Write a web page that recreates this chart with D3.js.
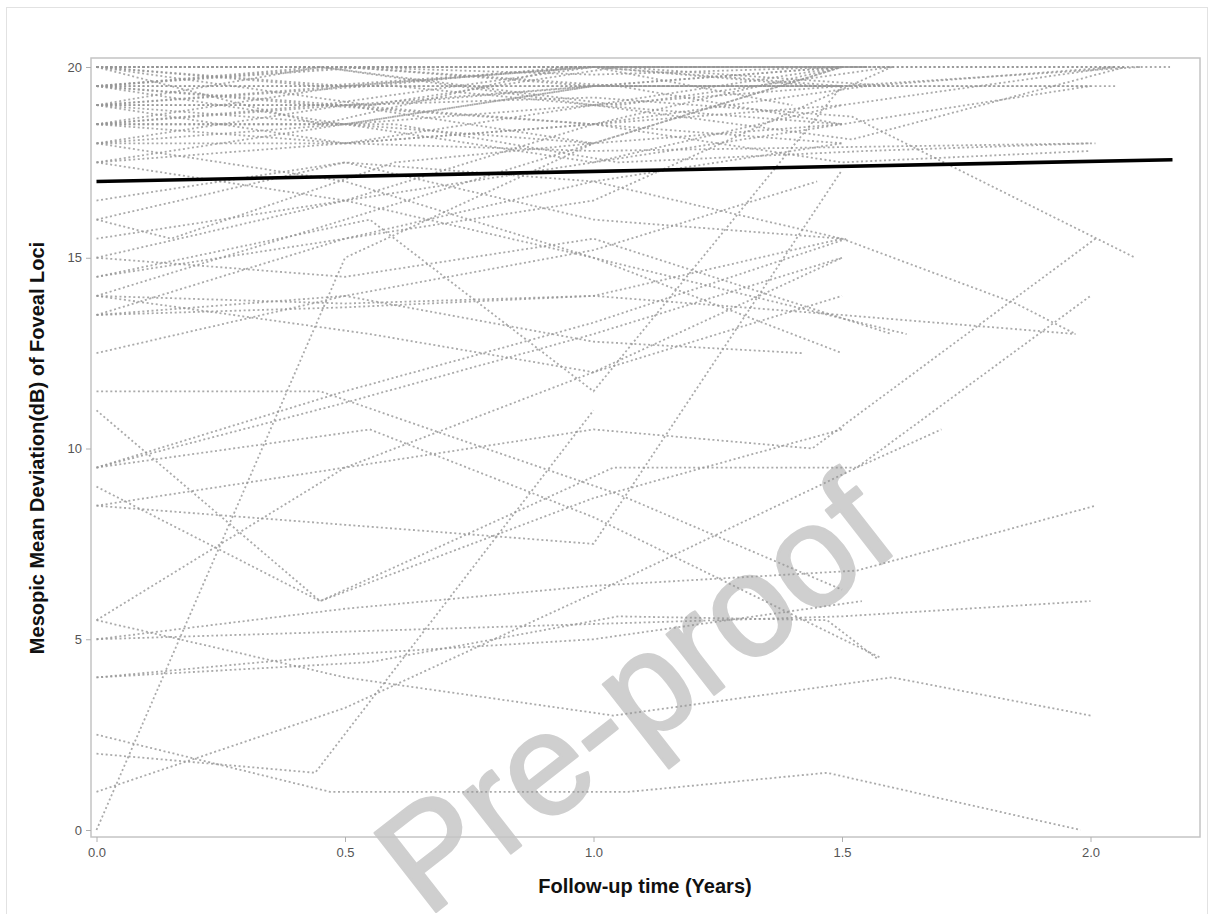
<!DOCTYPE html>
<html>
<head>
<meta charset="utf-8">
<script src="https://cdn.jsdelivr.net/npm/d3@7"></script>
<style>
  html, body { margin: 0; padding: 0; background: #fff; }
  svg { display: block; }
</style>
</head>
<body>
<svg id="chart" width="1214" height="914"></svg>
<script>
// ticks
const xTicks = [0, 0.5, 1.0, 1.5, 2.0]
const yTicks = [0, 5, 10, 15, 20]

// 回归线 (拟合)
const fitTimes = [0, 2.165]
const fitValues = [17.0, 17.57]

// 每个患者的随访 [时间, 值]
const topBand = [
  [[0, 20], [0.5, 20], [1.0, 20], [1.5, 20], [2.16, 20]],
  [[0, 20], [0.5, 20], [1.0, 19.8], [1.5, 20], [2.07, 20]],
  [[0, 20], [0.45, 19.5], [1.0, 20], [1.6, 20]],
  [[0, 20], [0.55, 19], [1.0, 19.5], [1.5, 19.5]],
  [[0, 20], [0.5, 20], [1.05, 19.5], [1.5, 18.5]],
  [[0, 20], [0.45, 18.5], [0.95, 20], [1.45, 20]],
  [[0, 20], [0.5, 19.5], [1.0, 20], [1.5, 19.5], [2.1, 20]],
  [[0, 20], [0.5, 20], [1.0, 20], [1.45, 19.5]],
  [[0, 20], [0.55, 20], [1.05, 20], [1.6, 19.5]],
  [[0, 19.5], [0.5, 19.5], [1.0, 19.5], [1.5, 19.5], [2.05, 19.5]],
  [[0, 19.5], [0.45, 20], [1.0, 19], [1.5, 20]],
  [[0, 19.5], [0.5, 18.5], [1.0, 19.5], [1.55, 19.5], [2.05, 20]],
  [[0, 19.5], [0.55, 20], [1.0, 20], [1.4, 19]],
  [[0, 19.5], [0.5, 19], [1.0, 18], [1.5, 20]],
  [[0, 19.5], [0.5, 20], [1.0, 19.5], [1.5, 20]],
  [[0, 19.5], [0.45, 19], [1.0, 20], [1.55, 20]],
  [[0, 19.5], [0.6, 19.5], [1.0, 19], [1.5, 18.5], [2.0, 19.5]],
  [[0, 19], [0.5, 19.5], [1.0, 19.5], [1.5, 19.5], [2.0, 19.5]],
  [[0, 19], [0.5, 19], [1.0, 18.5], [1.5, 17.5], [2.0, 17.8]],
  [[0, 19], [0.45, 20], [1.05, 19], [1.6, 20]],
  [[0, 19], [0.5, 18.5], [1.0, 17.5], [1.5, 18.5]],
  [[0, 19], [0.55, 19.5], [0.95, 20], [1.55, 20]],
  [[0, 19], [0.5, 18], [1.0, 19], [1.5, 19.5]],
  [[0, 19], [0.55, 19], [1.05, 20]],
  [[0, 18.5], [0.5, 19], [1.0, 19.5], [1.5, 20]],
  [[0, 18.5], [0.5, 18], [1.0, 18.5], [1.5, 18]],
  [[0, 18.5], [0.6, 18.5], [1.05, 17.5], [1.55, 17.8], [2.0, 18]],
  [[0, 18.5], [0.5, 19.5], [1.0, 20]],
  [[0, 18.5], [0.5, 18.5], [1.0, 18], [1.5, 18.5]],
  [[0, 18.5], [0.45, 19], [1.0, 18.5], [1.55, 19.5]],
  [[0, 18], [0.5, 18], [1.0, 17.8], [1.5, 17.9], [2.01, 18]],
  [[0, 18], [0.5, 19], [1.0, 19.2], [1.52, 18.7], [2.09, 15]],
  [[0, 18], [0.5, 18.5], [1.0, 19.5], [1.5, 19.5]],
  [[0, 18], [0.5, 17], [1.0, 15], [1.63, 13.0]],
  [[0, 17.5], [0.5, 16.5], [1.0, 17.5], [1.5, 19]],
  [[0, 17.5], [0.5, 18.5], [1.0, 19], [1.52, 18.1], [2.07, 20]],
  [[0, 17.5], [0.5, 18], [1.0, 18.5], [1.5, 19], [2.05, 20]],
]

const midBand = [
  [[0, 16.5], [0.5, 17.5], [1.0, 16], [1.5, 15.5]],
  [[0, 16], [0.15, 15.5], [0.6, 17.5], [1.0, 18], [1.5, 20]],
  [[0, 16], [0.5, 17.5], [1.0, 17], [1.5, 15.5], [1.85, 13.8], [1.97, 13]],
  [[0, 15.5], [0.5, 16.5], [1.0, 15], [1.5, 12.5]],
  [[0, 15], [0.5, 16.5], [1.0, 18.5], [1.5, 20]],
  [[0, 15], [0.5, 14.5], [1.0, 15.5], [1.6, 13]],
  [[0, 14.5], [0.5, 15.5], [1.0, 16.5], [1.6, 20]],
  [[0, 14.5], [0.55, 16], [1.0, 11.5], [1.5, 19.5]],
  [[0, 14], [0.5, 16], [1.0, 18]],
  [[0, 14], [0.5, 13.8], [1.0, 14], [1.5, 13.5], [1.97, 13]],
  [[0, 14], [0.55, 13], [1.0, 12], [1.5, 15]],
  [[0, 13.5], [0.5, 13.7], [1.0, 14], [1.5, 15.5]],
  [[0, 13.5], [0.5, 15.5], [1.0, 17], [1.5, 18]],
  [[0, 13.5], [0.5, 14], [1.0, 12.8], [1.42, 12.5]],
  [[0, 12.5], [0.5, 14], [1.0, 15.2], [1.45, 17]],
  [[0, 11.5], [0.45, 11.5], [1.05, 8.8], [1.5, 6.3]],
  [[0, 11], [0.45, 6.0], [1.0, 8.7], [1.5, 10.5]],
  [[0, 9.5], [0.55, 10.5], [1.0, 8.2], [1.58, 4.5]],
  [[0, 9.5], [0.5, 11.5], [1.0, 13.3], [1.51, 15.5]],
  [[0, 9.5], [0.5, 11.2], [1.0, 13.0], [1.5, 15.0]],
  [[0, 9], [0.45, 6], [1.04, 9.5], [1.53, 9.5], [2.0, 14]],
  [[0, 8.5], [0.5, 8.0], [1.0, 7.5], [1.5, 17.3]],
  [[0, 8.5], [0.5, 9.5], [1.0, 12], [1.5, 14]],
]

const lowBand = [
  [[0, 5.5], [0.5, 9.5], [1.0, 10.5], [1.44, 10.0], [2.01, 15.5]],
  [[0, 5.5], [0.5, 4.0], [1.04, 3.0], [1.6, 4.0], [2.0, 3.0]],
  [[0, 5], [0.5, 5.2], [1.0, 5.4], [1.5, 5.6], [2.0, 6.0]],
  [[0, 5], [0.5, 5.8], [1.0, 6.4], [1.53, 6.8], [2.01, 8.5]],
  [[0, 4], [0.5, 4.6], [1.0, 5.0], [1.54, 6.0]],
  [[0, 4], [0.55, 4.4], [1.05, 5.6], [1.47, 5.5], [1.57, 4.5]],
  [[0, 2.5], [0.47, 1.0], [1.07, 1.0], [1.47, 1.5], [1.98, 0]],
  [[0, 2.0], [0.44, 1.5], [1.0, 11.0]],
  [[0, 1.0], [0.5, 3.2], [1.0, 6.2], [1.53, 9.5], [1.7, 10.5]],
  [[0, 0], [0.5, 15], [1.0, 18]],
]

const FONT = 'Liberation Sans, Arial, sans-serif'
const svg = d3.select('#chart')

// 外边框
svg.append('rect')
  .attr('x', 6.5).attr('y', 7.5)
  .attr('width', 1201).attr('height', 920)
  .attr('fill', 'none')
  .attr('stroke', '#e2e2e2')
  .attr('stroke-width', 1)

// 比例尺
const x = d3.scaleLinear().domain([0, 2]).range([96.5, 1090.5])
const y = d3.scaleLinear().domain([0, 20]).range([830, 67])

const frame = {left: 91, right: 1200, top: 58, bottom: 837}

// 水印 - 加一点描边让笔画粗一点
svg.append('text')
  .attr('transform', 'translate(665,733) rotate(-38)')
  .attr('text-anchor', 'middle')
  .attr('font-family', FONT)
  .attr('font-size', 145)
  .attr('fill', '#cfcfcf')
  .attr('stroke', '#cfcfcf')
  .attr('stroke-width', 2.5)
  .attr('stroke-linejoin', 'round')
  .text('Pre-proof')

// 患者折线
const line = d3.line().x((d) => x(d[0])).y((d) => y(d[1]))
const all = topBand.concat(midBand, lowBand)

svg.append('g')
  .selectAll('path')
  .data(all)
  .join('path')
  .attr('d', line)
  .attr('fill', 'none')
  .attr('stroke', '#959595')
  .attr('stroke-opacity', 0.8)
  .attr('stroke-width', 1.8)
  .attr('stroke-dasharray', '2,2.6')

// 回归线
svg.append('path')
  .datum(fitTimes.map((t, i) => [t, fitValues[i]]))
  .attr('d', line)
  .attr('fill', 'none')
  .attr('stroke', '#000')
  .attr('stroke-width', 3.6)

// 边框
svg.append('rect')
  .attr('x', frame.left).attr('y', frame.top)
  .attr('width', frame.right - frame.left)
  .attr('height', frame.bottom - frame.top)
  .attr('fill', 'none')
  .attr('stroke', '#c4c4c4')
  .attr('stroke-width', 1.5)

// X轴
const xAxis = svg.append('g')
  .attr('transform', `translate(0,${frame.bottom})`)
  .call(d3.axisBottom(x).tickValues(xTicks).tickFormat(d3.format('.1f')).tickSize(5).tickPadding(6))
xAxis.select('.domain').remove()
xAxis.selectAll('line').attr('stroke', '#b0b0b0')
xAxis.selectAll('text')
  .attr('fill', '#555')
  .attr('font-family', FONT)
  .attr('font-size', 13)

// Y轴
const yAxis = svg.append('g')
  .attr('transform', `translate(${frame.left},0)`)
  .call(d3.axisLeft(y).tickValues(yTicks).tickSize(5).tickPadding(4))
yAxis.select('.domain').remove()
yAxis.selectAll('line').attr('stroke', '#b0b0b0')
yAxis.selectAll('text')
  .attr('fill', '#555')
  .attr('font-family', FONT)
  .attr('font-size', 13)

// 轴标题
svg.append('text')
  .attr('x', 645).attr('y', 893)
  .attr('text-anchor', 'middle')
  .attr('font-family', FONT)
  .attr('font-weight', 'bold')
  .attr('font-size', 20)
  .attr('fill', '#111')
  .text('Follow-up time (Years)')

svg.append('text')
  .attr('transform', 'translate(44,448) rotate(-90)')
  .attr('text-anchor', 'middle')
  .attr('font-family', FONT)
  .attr('font-weight', 'bold')
  .attr('font-size', 20)
  .attr('fill', '#111')
  .text('Mesopic Mean Deviation(dB) of Foveal Loci')
</script>
</body>
</html>
